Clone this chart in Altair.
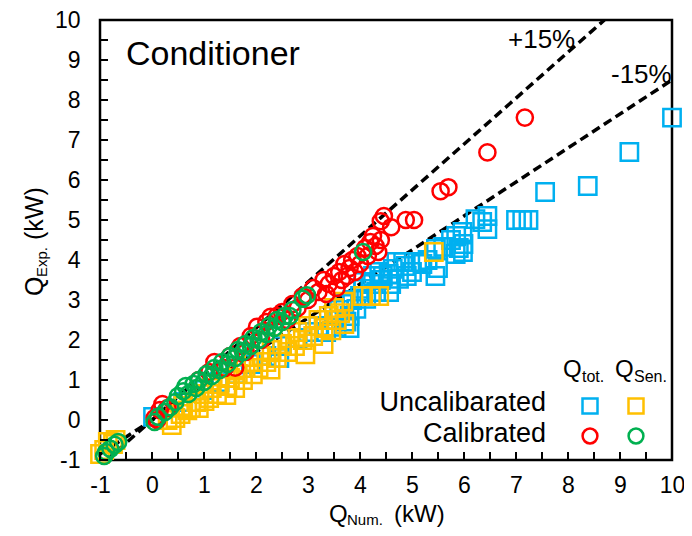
import altair as alt
import pandas as pd

FONT = "Liberation Sans"

# ---- data ----
tot_uncal_x = [0.02, 0.6, 1.0, 1.3, 1.6, 1.9, 2.2, 2.45, 2.5, 2.8, 3.0, 3.2, 3.35, 3.5, 3.55, 3.6, 3.7, 3.74, 3.8, 3.8,
               3.85, 3.93, 4.0, 4.06, 4.06, 4.12, 4.2, 4.25, 4.31, 4.37, 4.44, 4.4, 4.56, 4.55, 4.63, 4.6, 4.7, 4.75, 4.83, 4.88,
               4.9, 5.0, 5.1, 5.2, 5.3, 5.45, 5.46, 5.5, 5.6, 5.75, 5.84, 5.85, 5.9, 5.97, 5.98, 5.99, 6.22, 6.35, 6.45, 6.45,
               7.0, 7.12, 7.24, 7.56, 8.38, 9.18, 10.0]
tot_uncal_y = [0.08, 0.45, 0.75, 0.95, 1.15, 1.4, 1.6, 1.55, 1.85, 2.05, 2.2, 2.35, 2.2, 2.5, 2.33, 2.75, 2.9, 2.46, 2.6, 2.3,
               3.0, 2.78, 3.1, 3.28, 3.45, 3.03, 3.4, 3.6, 3.2, 3.7, 3.6, 3.5, 3.2, 3.65, 3.78, 3.4, 3.95, 3.53, 3.95, 3.85,
               3.6, 3.7, 3.95, 3.9, 4.0, 3.6, 4.28, 3.8, 4.33, 4.5, 4.15, 4.6, 4.3, 4.7, 4.2, 4.4, 5.02, 4.95, 5.1, 4.77,
               5.0, 5.0, 5.0, 5.7, 5.85, 6.7, 7.56]

sen_uncal_x = [-1.0, -0.92, -0.85, -0.75, -0.7, 0.38, 0.3, 0.45, 0.55, 0.68, 0.6, 0.75, 0.85, 0.9, 1.01, 1.0, 1.1, 1.15,
               1.25, 1.3, 1.43, 1.45, 1.5, 1.6, 1.65, 1.75, 1.8, 1.94, 1.95, 2.05, 2.1, 2.2, 2.28, 2.3, 2.4, 2.5, 2.6, 2.65,
               2.75, 2.8, 2.95, 2.9, 3.0, 3.1, 3.2, 3.3, 3.3, 3.4, 3.45, 3.5, 3.55, 3.62, 3.68, 3.7, 4.06, 4.21, 4.37, 5.42]
sen_uncal_y = [-0.85, -0.75, -0.55, -0.6, -0.5, -0.13, 0.0, 0.05, 0.15, 0.24, 0.35, 0.3, 0.45, 0.3, 0.47, 0.65, 0.55, 0.8,
               0.65, 0.9, 0.62, 0.85, 1.05, 0.8, 1.15, 1.0, 1.3, 1.14, 1.45, 1.3, 1.6, 1.45, 1.26, 1.75, 1.55, 1.9, 1.7, 2.05,
               1.85, 2.2, 1.64, 2.0, 2.35, 2.1, 2.5, 1.9, 2.3, 2.6, 2.24, 2.8, 2.5, 2.67, 2.96, 2.4, 3.1, 3.1, 3.1, 4.2]

tot_cal_x = [0.05, 0.15, 0.2, 0.3, 0.1, 0.9, 1.1, 1.2, 1.4, 1.5, 1.6, 1.7, 1.8, 1.9, 2.02, 2.1, 2.2, 2.28, 2.4, 2.5,
             2.6, 2.7, 2.8, 2.9, 3.0, 3.1, 3.2, 3.3, 3.35, 3.4, 3.5, 3.55, 3.6, 3.65, 3.7, 3.75, 3.8, 3.85, 3.9, 3.95,
             4.0, 4.1, 4.15, 4.2, 4.25, 4.3, 4.35, 4.4, 4.4, 4.46, 4.6, 4.88, 5.04, 5.55, 5.7, 6.45, 7.17]
tot_cal_y = [0.05, 0.25, 0.4, 0.3, 0.0, 1.0, 1.2, 1.45, 1.3, 1.6, 1.31, 1.85, 1.7, 2.1, 2.33, 2.0, 2.45, 2.58, 2.6, 2.7,
             2.5, 2.9, 2.8, 3.1, 3.0, 3.3, 3.2, 3.5, 3.15, 3.4, 3.6, 3.3, 3.7, 3.5, 3.9, 3.6, 3.8, 4.0, 3.7, 4.1,
             3.9, 4.3, 4.1, 4.45, 4.6, 4.35, 4.2, 4.5, 4.97, 5.1, 4.82, 5.0, 5.0, 5.72, 5.82, 6.69, 7.56]

sen_cal_x = [-0.92, -0.88, -0.8, -0.72, -0.65, 0.05, 0.12, 0.25, 0.35, 0.45, 0.5, 0.6, 0.65, 0.7, 0.8, 0.85, 0.9, 1.0,
             1.05, 1.15, 1.2, 1.3, 1.35, 1.45, 1.5, 1.6, 1.65, 1.75, 1.8, 1.9, 1.95, 2.05, 2.1, 2.2, 2.25, 2.35, 2.4,
             2.5, 2.55, 2.65, 2.7, 2.9, 2.98, 4.06]
sen_cal_y = [-0.9, -0.8, -0.72, -0.62, -0.55, -0.05, 0.08, 0.2, 0.32, 0.45, 0.6, 0.72, 0.85, 0.65, 0.9, 0.8, 1.0, 0.95,
             1.15, 1.1, 1.3, 1.25, 1.45, 1.4, 1.6, 1.55, 1.75, 1.7, 1.9, 1.85, 2.05, 2.0, 2.2, 2.15, 2.35, 2.3, 2.5,
             2.45, 2.6, 2.6, 2.75, 3.03, 3.12, 4.2]

# +/-15 % guide lines (end points)
plus_x = [-0.87, 8.7]
plus_y = [-1.0, 10.0]
minus_x = [-1.0, 10.0]
minus_y = [-0.85, 8.5]

tick_labels = list(range(-1, 11))
minor_ticks = [i / 2 for i in range(-2, 21)]

# ---- encodings ----
W, H = 572, 440
xs = alt.Scale(domain=[-1, 10], nice=False, zero=False)
ys = alt.Scale(domain=[-1, 10], nice=False, zero=False)
X = alt.X("x:Q", scale=xs, axis=alt.Axis(values=tick_labels, ticks=False, domain=False, grid=False,
                                         labelFont=FONT, labelFontSize=23, labelColor="black",
                                         labelExpr="'' + datum.value",
                                         labelPadding=14, labelFlush=False, labelOverlap=False, title=None))
Y = alt.Y("y:Q", scale=ys, axis=alt.Axis(values=tick_labels, ticks=False, domain=False, grid=False,
                                         labelFont=FONT, labelFontSize=23, labelColor="black",
                                         labelExpr="'' + datum.value",
                                         labelPadding=20, labelFlush=False, labelOverlap=False, title=None))


def pts(xv, yv, shape, color, size):
    d = pd.DataFrame({"x": xv, "y": yv})
    return alt.Chart(d).mark_point(shape=shape, filled=False, size=size, strokeWidth=2.5,
                                   color=color, opacity=1).encode(x=X, y=Y)


lines_df = pd.DataFrame({"x": plus_x + minus_x, "y": plus_y + minus_y,
                         "line": ["p", "p", "m", "m"]})
lines = alt.Chart(lines_df).mark_line(color="black", strokeDash=[9, 5], strokeWidth=3.5,
                                      clip=True).encode(x=X, y=Y, detail="line:N")

BLUE, YELLOW, RED, GREEN = "#00B0F0", "#FFC000", "#FF0000", "#00B050"

blue = pts(tot_uncal_x, tot_uncal_y, "square", BLUE, 300)
yellow = pts(sen_uncal_x, sen_uncal_y, "square", YELLOW, 300)
red = pts(tot_cal_x, tot_cal_y, "circle", RED, 260)
green = pts(sen_cal_x, sen_cal_y, "circle", GREEN, 260)

# inward ticks every 0.5
xt = alt.Chart(pd.DataFrame({"x": minor_ticks})).mark_tick(
    color="black", thickness=2, size=8, orient="vertical", opacity=1).encode(
    x=X, y=alt.value(H - 4))
yt = alt.Chart(pd.DataFrame({"y": minor_ticks})).mark_tick(
    color="black", thickness=2, size=8, orient="horizontal", opacity=1).encode(
    y=Y, x=alt.value(4))

one = alt.Data(values=[{"a": 1}])


def txt(s, px, py, size, align="left", angle=0):
    return alt.Chart(one).mark_text(text=s, font=FONT, fontSize=size, color="black", align=align,
                                    baseline="alphabetic", angle=angle).encode(
        x=alt.value(px), y=alt.value(py))


def mk(px, py, shape, color, size):
    return alt.Chart(one).mark_point(shape=shape, filled=False, size=size, strokeWidth=2.5,
                                     color=color, opacity=1).encode(x=alt.value(px), y=alt.value(py))


texts = [
    txt("Conditioner", 26, 45, 34),
    txt("+15%", 408, 28, 26),
    txt("-15%", 511, 63, 26),
    # x title
    txt("Q", 229, 502, 24),
    txt("Num.", 247, 505, 15),
    txt("(kW)", 294, 502, 24),
    # y title
    txt("Q", -57, 276, 25, angle=270),
    txt("Exp.", -53, 257, 15, angle=270),
    txt("(kW)", -57, 220, 25, angle=270),
    # legend
    txt("Q", 463, 357, 24),
    txt("tot.", 482, 362, 16),
    txt("Q", 515, 357, 24),
    txt("Sen.", 534, 362, 16),
    txt("Uncalibarated", 446, 391, 27, align="right"),
    txt("Calibrated", 446, 422, 27, align="right"),
]
legend_marks = [
    mk(490, 386, "square", BLUE, 225),
    mk(536, 386, "square", YELLOW, 225),
    mk(490, 416, "circle", RED, 220),
    mk(536, 416, "circle", GREEN, 220),
]

chart = alt.layer(lines, blue, yellow, red, green, xt, yt, *texts, *legend_marks).properties(
    width=W, height=H, autosize="none",
    padding={"left": 92, "top": 12, "right": 12, "bottom": 68},
).configure_view(stroke="black", strokeWidth=2.5)

chart.save("out.html", embed_options={"renderer": "svg", "actions": False})
